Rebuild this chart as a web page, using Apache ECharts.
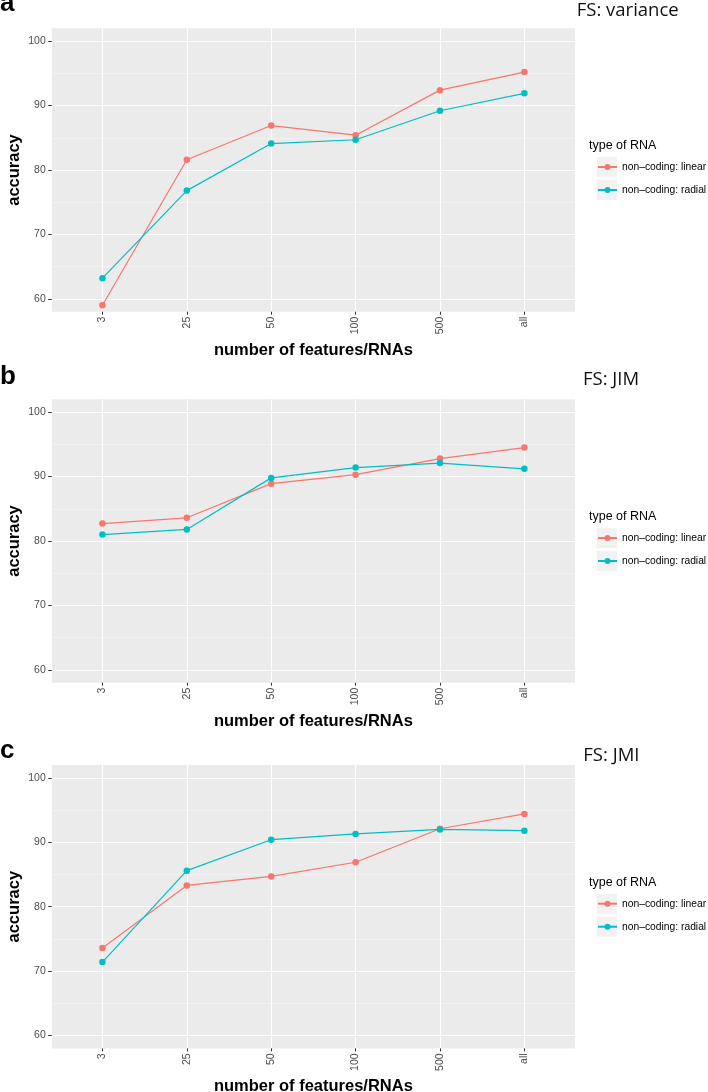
<!DOCTYPE html>
<html>
<head>
<meta charset="utf-8">
<script src="https://cdn.jsdelivr.net/npm/echarts@6/dist/echarts.min.js"></script>
<style>
html,body{margin:0;padding:0;background:#fff;}
#chart{width:708px;height:1092px;}
</style>
</head>
<body>
<div id="chart"></div>
<script>
// ---- data ----
const categories = ['3', '25', '50', '100', '500', 'all'];
const yTicks = [60, 70, 80, 90, 100];
const yMinorTicks = [65, 75, 85, 95];
const seriesNames = ['non\u2013coding: linear', 'non\u2013coding: radial'];
const legendTitle = 'type of RNA';
const panelLetters = ['a', 'b', 'c'];
const panelTitles = ['FS: variance', 'FS: JIM', 'FS: JMI'];
const xTitle = 'number of features/RNAs';
const yTitle = 'accuracy';

const linearVariance = [59.0, 81.6, 86.9, 85.4, 92.4, 95.2];
const radialVariance = [63.2, 76.8, 84.1, 84.7, 89.2, 91.9];
const linearJIM = [82.7, 83.6, 88.9, 90.3, 92.8, 94.5];
const radialJIM = [81.0, 81.8, 89.8, 91.4, 92.1, 91.2];
const linearJMI = [73.6, 83.3, 84.7, 86.9, 92.1, 94.4];
const radialJMI = [71.4, 85.6, 90.4, 91.3, 92.0, 91.8];

const panelData = [
  [linearVariance, radialVariance],
  [linearJIM, radialJIM],
  [linearJMI, radialJMI]
];

// ---- layout / style ----
const colors = ['#F8766D', '#00BFC4'];
const FONT = '"Liberation Sans", Arial, Helvetica, sans-serif';
const plotLeft = 51.8, plotWidth = 523.2, plotHeight = 283.4;
const plotTops = [28.3, 399.3, 765];
const letterBaselines = [13, 386.7, 760];
const titleBaselines = [17.3, 386.7, 762.3];
const titleLefts = [576.7, 583, 583.3];
const keyLeft = 596.5, keySpacing = 23;

const catIdx = categories.map((c, i) => i);

const grids = [], xAxes = [], yAxes = [], series = [], legends = [], graphics = [];

plotTops.forEach((top, p) => {
  grids.push({
    left: plotLeft, top: top, width: plotWidth, height: plotHeight,
    show: true, backgroundColor: '#EBEBEB', borderWidth: 0,
    containLabel: false, outerBoundsMode: 'none'
  });
  xAxes.push({
    type: 'value', gridIndex: p, min: -0.6, max: 5.6,
    axisLine: {show: false},
    axisTick: {show: true, customValues: catIdx, length: 3, lineStyle: {color: '#333333', width: 1}},
    axisLabel: {
      show: true, customValues: catIdx, rotate: 90, margin: 5,
      fontSize: 10.5, color: '#4D4D4D', fontFamily: FONT,
      formatter: v => categories[Math.round(v)]
    },
    splitLine: {show: true, lineStyle: {color: '#FFFFFF', width: 1.1}},
    name: xTitle, nameLocation: 'middle', nameGap: 30, nameMoveOverlap: false,
    nameTextStyle: {fontSize: 16.5, fontWeight: 'bold', color: '#000', fontFamily: FONT}
  });
  // minor grid axis
  yAxes.push({
    type: 'value', gridIndex: p, min: 58, max: 102, position: 'left',
    axisLine: {show: false},
    axisTick: {show: false, customValues: yMinorTicks},
    axisLabel: {show: false, customValues: yMinorTicks},
    splitLine: {show: true, lineStyle: {color: '#F7F7F7', width: 0.6}}
  });
  // major axis
  yAxes.push({
    type: 'value', gridIndex: p, min: 58, max: 102, position: 'left',
    axisLine: {show: false},
    axisTick: {show: true, customValues: yTicks, length: 3.5, lineStyle: {color: '#333333', width: 1}},
    axisLabel: {show: true, customValues: yTicks, margin: 6, fontSize: 10.5, color: '#4D4D4D', fontFamily: FONT},
    splitLine: {show: true, lineStyle: {color: '#FFFFFF', width: 1.1}},
    name: yTitle, nameLocation: 'middle', nameGap: 29, nameRotate: 90, nameMoveOverlap: false,
    nameTextStyle: {fontSize: 16.5, fontWeight: 'bold', color: '#000', fontFamily: FONT}
  });
  panelData[p].forEach((vals, s) => {
    series.push({
      type: 'line', name: seriesNames[s],
      xAxisIndex: p, yAxisIndex: 2 * p + 1,
      data: vals.map((v, i) => [i, v]),
      symbol: 'circle', symbolSize: 6.5, showSymbol: true,
      itemStyle: {color: colors[s]},
      lineStyle: {color: colors[s], width: 1.2},
      emphasis: {disabled: true},
      z: 3
    });
  });
  const key1 = top + 138.7;
  legends.push({
    orient: 'vertical', left: keyLeft + 0.5, top: key1 - 7, padding: 0,
    itemWidth: 19, itemHeight: 7.5, itemGap: keySpacing - 14,
    selectedMode: false, data: seriesNames,
    textStyle: {fontSize: 10.3, color: '#000', fontFamily: FONT, lineHeight: 14}
  });
  // key backgrounds
  [0, 1].forEach(k => {
    graphics.push({
      type: 'rect', z: -1, silent: true,
      shape: {x: keyLeft, y: key1 + k * keySpacing - 10, width: 20.5, height: 20},
      style: {fill: '#F2F2F2'}
    });
  });
  graphics.push({
    type: 'text', silent: true, x: 589, y: key1 - 21,
    style: {text: legendTitle, font: '12.5px ' + FONT, fill: '#000', verticalAlign: 'middle', align: 'left'}
  });
  graphics.push({
    type: 'text', silent: true, x: 0, y: letterBaselines[p] - 9.5,
    style: {text: panelLetters[p], font: 'bold 26px ' + FONT, fill: '#000', verticalAlign: 'middle', align: 'left'}
  });
  graphics.push({
    type: 'text', silent: true, x: titleLefts[p], y: titleBaselines[p] - 6.5,
    style: {text: panelTitles[p], font: '18.5px "Open Sans", sans-serif', fill: '#111', verticalAlign: 'middle', align: 'left'}
  });
});

const chart = echarts.init(document.getElementById('chart'), null, {renderer: 'canvas'});
chart.setOption({
  animation: false,
  backgroundColor: '#FFFFFF',
  grid: grids, xAxis: xAxes, yAxis: yAxes, series: series,
  legend: legends, graphic: {elements: graphics},
  tooltip: {show: false}
});
</script>
</body>
</html>
